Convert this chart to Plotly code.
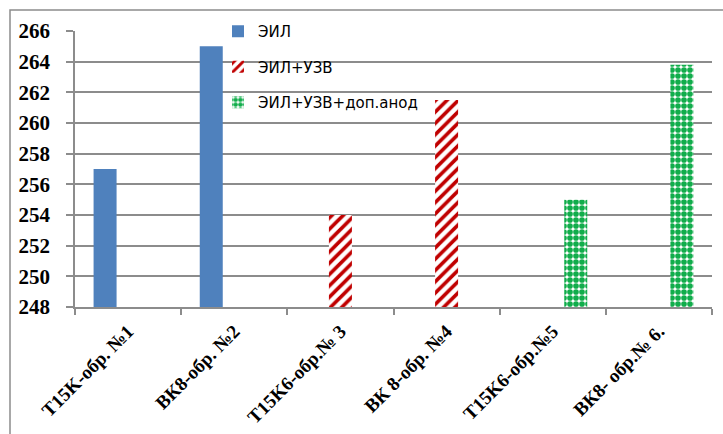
import plotly.graph_objects as go

# Samples and measured values (µm)
categories = ["T15K-обр. №1", "ВК8-обр. №2", "T15K6-обр.№ 3",
              "ВК 8-обр. №4", "T15K6-обр.№5", "ВК8- обр.№ 6."]
eil = [257, 265, None, None, None, None]
eil_uzv = [None, None, 254, 261.5, None, None]
eil_uzv_anod = [None, None, None, None, 255, 263.8]
series_names = ["ЭИЛ", "ЭИЛ+УЗВ", "ЭИЛ+УЗВ+доп.анод"]
y_ticks = [248, 250, 252, 254, 256, 258, 260, 262, 264, 266]

W, H = 723, 434
ML, MR, MT, MB = 75, 11, 31, 127
pw, ph = W - ML - MR, H - MT - MB


def px_to_paper_x(px):
    return (px - ML) / pw


def px_to_paper_y(py):
    return 1 + (MT - py) / ph


GRID = "#8c8c8c"
serif = "Liberation Serif"

fig = go.Figure()
fig.add_trace(go.Bar(
    x=categories, y=eil, name=series_names[0], legendgroup="a",
    marker=dict(color="#4f81bd", line=dict(width=0)),
))
fig.add_trace(go.Bar(
    x=categories, y=eil_uzv, name=series_names[1], legendgroup="b",
    marker=dict(color="white", line=dict(width=0),
                pattern=dict(shape="/", fgcolor="#c00000", bgcolor="white",
                             fgopacity=1, size=8, solidity=0.45,
                             fillmode="replace")),
))
fig.add_trace(go.Bar(
    x=categories, y=eil_uzv_anod, name=series_names[2], legendgroup="c",
    marker=dict(color="white", line=dict(width=0),
                pattern=dict(shape=".", fgcolor="#11ad4b", bgcolor="white",
                             fgopacity=1, size=6, solidity=0.7,
                             fillmode="replace")),
))

fig.update_layout(
    width=W, height=H,
    margin=dict(l=ML, r=MR, t=MT, b=MB, pad=0),
    paper_bgcolor="white", plot_bgcolor="white",
    barmode="group", bargap=0.35, bargroupgap=0,
    showlegend=True,
    legend=dict(
        x=px_to_paper_x(218), y=px_to_paper_y(15),
        xanchor="left", yanchor="top",
        bgcolor="rgba(0,0,0,0)", borderwidth=0,
        font=dict(family="DejaVu Sans", size=15, color="black"),
        tracegroupgap=13, traceorder="grouped",
    ),
    xaxis=dict(
        type="category", tickson="boundaries", automargin=False,
        showgrid=False, showline=True, linecolor=GRID, linewidth=1.5,
        ticks="outside", ticklen=6, tickcolor=GRID, tickwidth=1.5,
        tickangle=-45, ticklabelstandoff=4,
        tickfont=dict(family=serif, size=19, color="black", weight="bold"),
    ),
    yaxis=dict(
        range=[248, 266], tickvals=y_ticks, automargin=False,
        showgrid=True, gridcolor=GRID, gridwidth=1.5,
        showline=True, linecolor=GRID, linewidth=1.5,
        ticks="outside", ticklen=7, tickcolor=GRID, tickwidth=1.5,
        ticklabelstandoff=12,
        tickfont=dict(family=serif, size=21, color="black", weight="bold"),
        zeroline=False,
    ),
)

# Chart frame, running past the right and bottom edges
fig.add_shape(
    type="rect", xref="paper", yref="paper",
    x0=px_to_paper_x(10), x1=px_to_paper_x(800),
    y0=px_to_paper_y(520), y1=px_to_paper_y(10),
    line=dict(color="#8c8c8c", width=1.5), fillcolor="rgba(0,0,0,0)",
    layer="below",
)

# Axis unit above the chart
fig.add_annotation(
    text="мкм", xref="paper", yref="paper",
    x=px_to_paper_x(34), y=px_to_paper_y(4),
    xanchor="right", yanchor="bottom", showarrow=False,
    font=dict(family=serif, size=20, color="black", weight="bold"),
)

fig.write_html("out.html")
